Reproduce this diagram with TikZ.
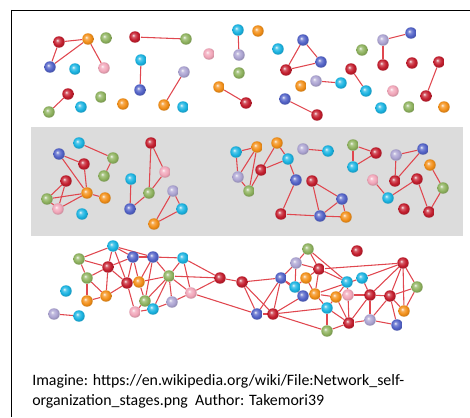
\documentclass[tikz,border=0pt]{standalone}
\usepackage{fontspec}
\setmainfont{Carlito}
\usetikzlibrary{backgrounds}

\definecolor{bred}{HTML}{C41E2E}
\definecolor{borange}{HTML}{F39019}
\definecolor{bgreen}{HTML}{8FB35F}
\definecolor{bblue}{HTML}{5363C8}
\definecolor{bcyan}{HTML}{1BB4E2}
\definecolor{bpink}{HTML}{F2A7BA}
\definecolor{bpurple}{HTML}{ADA5D3}
\definecolor{linkred}{HTML}{E0474F}
\definecolor{band}{HTML}{DCDCDC}

% a ball shading with a softer rim than the stock one
\makeatletter
\pgfdeclareradialshading[tikz@ball]{softball}{\pgfqpoint{-8bp}{8bp}}{%
  color(0bp)=(tikz@ball!10!white);
  color(8bp)=(tikz@ball!75!white);
  color(18bp)=(tikz@ball);
  color(26bp)=(tikz@ball!85!black);
  color(50bp)=(tikz@ball!70!black)}
\makeatother

\pgfdeclarelayer{links}
\pgfsetlayers{background,links,main}

\tikzset{
  ball/.style={circle, inner sep=0pt, minimum size=8.6pt},
  link/.style={draw=linkred, line width=0.8pt},
  frame/.style={line width=1.3pt}
}

\begin{document}
\begin{tikzpicture}[x=0.75pt,y=-0.75pt]
  \useasboundingbox (0,0) rectangle (470,417);
  \begin{pgfonlayer}{background}
    \fill[band] (31,127) rectangle (463,236);
  \end{pgfonlayer}
  \draw[frame] (11,10.5) -- (470,10.5);
  \draw[frame] (11.5,10) -- (11.5,417);

  % scattered stage
  \foreach \n/\x/\y/\c in {t1/59/42/bred, t2/88/39/borange, t3/106/38/bgreen,
      t4/135/37/bred, t5/186/39/bgreen, t6/50/67/bblue, t7/75/69/bcyan,
      t8/104/68/bpink, t9/141/60/bcyan, t10/184/72/bpurple, t11/209/54/bpink,
      t12/68/94/bred, t13/49/112/bgreen, t14/101/97/bgreen, t15/81/107/bcyan,
      t16/123/104/borange, t17/140/90/bblue, t18/164/105/borange,
      t19/183/107/bcyan, t20/219/87/borange, t21/238/30/bcyan,
      t22/258/31/borange, t23/239/55/bpurple, t24/239/73/bgreen,
      t25/246/103/bred, t26/278/49/bcyan, t27/303/40/bblue, t28/286/70/bred,
      t29/321/62/bblue, t30/301/86/borange, t31/316/81/bpurple,
      t32/341/83/bcyan, t33/285/99/bblue, t34/317/115/bred, t35/362/50/bgreen,
      t36/351/69/bred, t37/366/91/bcyan, t38/383/40/bpurple, t39/411/33/bblue,
      t40/383/65/bred, t41/412/63/bred, t42/439/62/bred, t43/426/96/bred,
      t44/393/91/bpink, t45/381/108/bcyan, t46/409/107/bgreen,
      t47/444/107/borange}
    \node[ball, ball color=\c, shading=softball] (\n) at (\x,\y) {};

  % small clusters
  \foreach \n/\x/\y/\c in {g1/79/143/bcyan, g2/59/154/bblue, g3/84/164/bred,
      g4/113/158/bgreen, g5/104/176/bgreen, g6/66/181/bred, g7/47/199/bgreen,
      g8/58/209/bpink, g9/87/193/borange, g10/105/198/borange,
      g11/82/214/bcyan, g12/151/143/bred, g13/165/172/bpink,
      g14/131/179/bcyan, g15/149/193/bgreen, g16/130/209/bblue,
      g17/173/191/bpurple, g18/182/209/bcyan, g19/154/224/borange,
      g20/236/152/bcyan, g21/257/147/borange, g22/277/143/borange,
      g23/288/159/bcyan, g24/261/170/bred, g25/238/177/bpurple,
      g26/249/191/bgreen, g27/296/180/bblue, g28/312/181/bred,
      g29/281/214/bred, g30/320/216/bblue, g31/342/199/bblue,
      g32/346/217/borange, g33/303/149/bpurple, g34/328/151/bcyan,
      g35/353/145/bgreen, g36/376/153/bred, g37/353/167/bcyan,
      g38/396/155/bpurple, g39/423/149/bblue, g40/430/165/borange,
      g41/373/180/bpink, g42/395/181/bred, g43/417/179/bred,
      g44/443/188/bgreen, g45/388/198/bcyan, g46/404/209/bred,
      g47/429/212/bred}
    \node[ball, ball color=\c, shading=softball] (\n) at (\x,\y) {};

  % connected network
  \foreach \n/\x/\y/\c in {a1/113/246/bcyan, a2/79/259/bgreen,
      a3/133/257/bblue, a4/153/257/bblue, a5/183/258/bcyan, a6/108/267/bred,
      a7/87/278/bgreen, a8/127/283/bred, a9/139/282/borange,
      a10/169/276/bgreen, a11/220/278/bred, a12/87/301/borange,
      a13/106/296/borange, a14/145/301/bgreen, a15/172/302/bpurple,
      a16/191/293/bpink, a17/135/312/bpink, a18/153/309/bcyan,
      b1/308/249/bgreen, b2/357/251/bred, b3/296/263/bpurple,
      b4/319/269/bred, b5/403/263/bred, b6/242/282/bred, b7/281/278/bblue,
      b8/306/278/borange, b9/295/287/bcyan, b10/347/282/bcyan,
      b11/362/278/bcyan, b12/417/287/bgreen, b13/303/296/bblue,
      b14/315/294/borange, b15/336/297/borange, b16/348/295/bpink,
      b17/370/295/bred, b18/390/296/bred, b19/327/308/bcyan,
      b20/404/311/borange, b21/257/314/bblue, b22/273/314/bred,
      b23/349/323/bred, b24/370/320/bpurple, b25/397/325/bblue,
      b26/327/331/bgreen, c1/66/291/bcyan, c2/54/314/bpurple,
      c3/79/316/bcyan}
    \node[ball, ball color=\c, shading=softball] (\n) at (\x,\y) {};

  \begin{pgfonlayer}{links}
    \foreach \a/\b in {t1/t2, t1/t6, t6/t2, t2/t8, t4/t5, t9/t17, t10/t18,
        t12/t13, t20/t25, t21/t23, t27/t28, t27/t29, t28/t29, t31/t32,
        t33/t34, t36/t37, t38/t39, t38/t40, t42/t43}
      \draw[link] (\a) -- (\b);
    \foreach \a/\b in {g1/g4, g4/g5, g2/g3, g2/g9, g3/g9, g9/g10, g6/g7,
        g6/g8, g7/g8, g7/g9, g8/g9, g12/g13, g12/g15, g13/g15, g15/g16,
        g14/g16, g17/g18, g17/g19, g18/g19, g20/g21, g20/g25, g21/g25,
        g21/g26, g25/g26, g26/g24, g24/g22, g24/g23, g22/g23, g23/g27,
        g27/g29, g29/g30, g28/g30, g28/g31, g30/g31, g31/g32, g30/g32,
        g33/g34, g35/g36, g35/g37, g36/g37, g38/g39, g38/g42, g39/g42,
        g41/g45, g45/g43, g43/g47, g40/g44, g44/g47}
      \draw[link] (\a) -- (\b);
    \foreach \a/\b in {a1/a2, a1/a3, a1/a4, a1/a6, a1/a8, a2/a6, a2/a7,
        a6/a7, a6/a3, a6/a8, a6/a13, a7/a12, a7/a13, a3/a4, a3/a8, a3/a9,
        a4/a5, a4/a9, a4/a10, a4/a14, a5/a10, a5/a16, a5/a11, a8/a9,
        a8/a13, a8/a17, a9/a10, a9/a14, a10/a14, a10/a18, a10/a15, a10/a16,
        a10/a11, a12/a13, a14/a18, a14/a17, a15/a18, a15/a16, a16/a11,
        a17/a18, a16/b21, a11/b6, c2/c3}
      \draw[link] (\a) -- (\b);
    \foreach \a/\b in {b6/b7, b6/b21, b6/b22, b7/b3, b7/b22, b7/b21, b7/b9,
        b7/b13, b3/b1, b3/b4, b3/b9, b1/b4, b1/b10, b4/b5, b4/b8, b4/b10,
        b4/b14, b8/b9, b8/b14, b9/b13, b13/b14, b13/b22, b14/b15, b14/b11,
        b14/b19, b15/b10, b15/b16, b15/b19, b15/b23, b16/b17, b16/b10,
        b16/b23, b17/b11, b17/b18, b17/b23, b17/b24, b17/b5, b18/b5,
        b18/b12, b18/b20, b18/b24, b5/b11, b5/b12, b5/b20, b20/b12,
        b23/b24, b24/b25, b23/b26, b22/b26, b22/b19, b19/b26, b21/b22,
        b25/b18, b19/b23}
      \draw[link] (\a) -- (\b);
  \end{pgfonlayer}

  \node[anchor=base west, inner sep=0pt, font=\fontsize{11.9}{14}\selectfont]
    (credit1) at (32,385) {Imagine: https://en.wikipedia.org/wiki/File:Network\_self-};
  \node[anchor=base west, inner sep=0pt, font=\fontsize{11.9}{14}\selectfont]
    (credit2) at (32,405) {organization\_stages.png\ \ Author: Takemori39};
\end{tikzpicture}
\end{document}
